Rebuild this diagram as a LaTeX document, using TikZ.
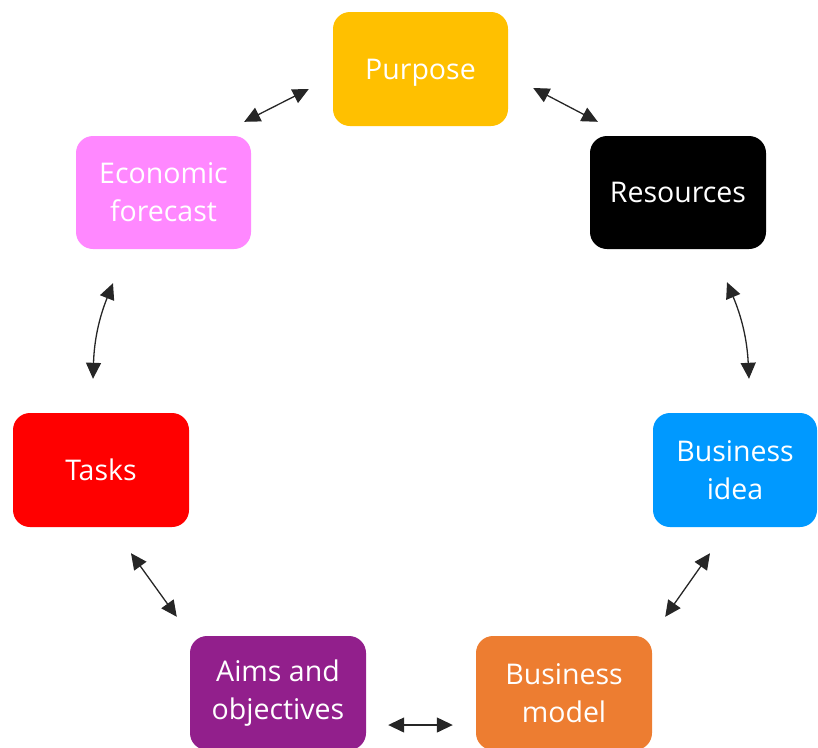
\documentclass[tikz,border=0pt]{standalone}
\usepackage{fontspec}
\setmainfont{Open Sans}
\usetikzlibrary{arrows.meta,calc}
\definecolor{cpur}{HTML}{FFC000}
\definecolor{cidea}{HTML}{0099FF}
\definecolor{cmodel}{HTML}{ED7D31}
\definecolor{caims}{HTML}{921F8C}
\definecolor{ctask}{HTML}{FF0000}
\definecolor{ceco}{HTML}{FF88FF}
\tikzset{
  box/.style={rounded corners=17pt, minimum width=176pt, minimum height=114pt,
    inner sep=0pt, text=white, align=center,
    font=\fontsize{28.5}{38}\selectfont},
  link/.style={{Triangle[length=16pt,width=15pt]}-{Triangle[length=16pt,width=15pt]},
    line width=1.3pt, draw=black!85}
}
\begin{document}
\begin{tikzpicture}[x=1pt,y=1pt]
\useasboundingbox (0,0) rectangle (818,-747);
\clip (0,0) rectangle (818,-747);
\node[box, fill=cpur, minimum width=175pt, text depth=0pt] (pur) at (420.5,-69) {Purpose};
\node[box, fill=black, minimum height=113pt] (res) at (678,-192.5) {Resources};
\node[box, fill=ceco, minimum width=175pt, minimum height=113pt] (eco) at (163.5,-192.5) {Economic\\forecast};
\node[box, fill=ctask] (tasks) at (101,-470) {Tasks};
\node[box, fill=cidea, minimum width=164pt] (idea) at (735,-470) {Business\\idea};
\node[box, fill=cmodel] (model) at (564,-693) {Business\\model};
\node[box, fill=caims] (aims) at (278,-693) {Aims and\\objectives};
\draw[link] ([shift={(-24,-20)}]pur.west) -- ([shift={(-7,14)}]eco.north east);
\draw[link] ([shift={(25,-19)}]pur.east) -- ([shift={(8,14)}]res.north west);
\draw[link] ([shift={(49,-33)}]res.south) to[bend left=10] ([shift={(14,34)}]idea.north);
\draw[link] ([shift={(-25,-26)}]idea.south) -- ([shift={(13,19)}]model.north east);
\draw[link] ([shift={(-23,-32)}]model.west) -- ([shift={(22,-32)}]aims.east);
\draw[link] ([shift={(-13,19)}]aims.north west) -- ([shift={(30,-26)}]tasks.south);
\draw[link] ([shift={(-8,34)}]tasks.north) to[bend left=10] ([shift={(-50.5,-34)}]eco.south);
\end{tikzpicture}
\end{document}
